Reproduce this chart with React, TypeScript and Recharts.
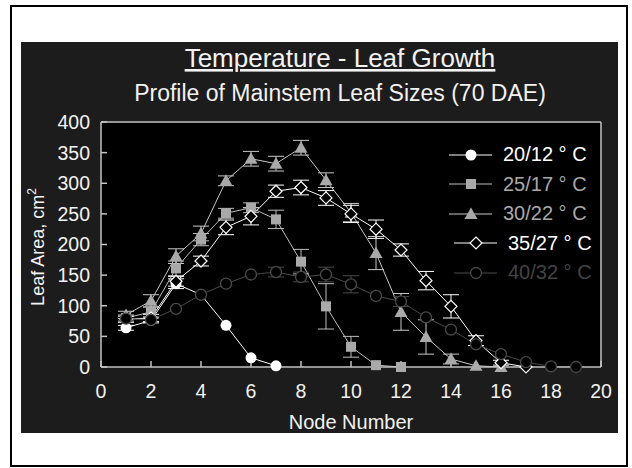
import { LineChart, Line, XAxis, YAxis, CartesianGrid, ErrorBar } from "recharts";

const FONT = "'Liberation Sans', Arial, sans-serif";

const nodes = [1, 2, 3, 4, 5, 6, 7, 8, 9, 10, 11, 12, 13, 14, 15, 16, 17, 18, 19];
const xTicks = [0, 2, 4, 6, 8, 10, 12, 14, 16, 18, 20];
const yTicks = [0, 50, 100, 150, 200, 250, 300, 350, 400];

// leaf area (cm2) per node, and half-width of the error bars
const t20 = [64, 76, 136, 118, 68, 15, 2];
const e20 = [4, 4, 8, 0, 0, 0, 0];
const t25 = [80, 90, 161, 208, 251, 260, 241, 172, 99, 33, 3, 0];
const e25 = [5, 8, 12, 10, 8, 8, 15, 20, 37, 17, 0, 0];
const t30 = [85, 108, 181, 218, 304, 340, 332, 358, 305, 252, 186, 90, 49, 13, 2, 0];
const e30 = [6, 10, 12, 12, 8, 12, 12, 12, 12, 15, 27, 30, 28, 8, 0, 0];
const t35 = [78, 80, 140, 173, 228, 246, 287, 293, 276, 250, 225, 191, 141, 99, 43, 7, 0];
const e35 = [5, 6, 8, 8, 12, 14, 10, 12, 12, 14, 15, 10, 15, 19, 8, 4, 0];
const t40 = [79, 77, 95, 118, 136, 151, 155, 147, 151, 135, 116, 107, 81, 61, 37, 21, 8, 1, 0];
const e40 = [0, 0, 0, 0, 0, 0, 8, 8, 12, 14, 0, 8, 0, 0, 0, 0, 0, 0, 0];

const data = nodes.map((n, i) => ({
  node: n,
  t20: t20[i] ?? null, e20: e20[i] ?? null,
  t25: t25[i] ?? null, e25: e25[i] ?? null,
  t30: t30[i] ?? null, e30: e30[i] ?? null,
  t35: t35[i] ?? null, e35: e35[i] ?? null,
  t40: t40[i] ?? null, e40: e40[i] ?? null,
}));

type Shape = "circle" | "square" | "triangle" | "diamond" | "ring";

function Marker({ shape, x, y }: { shape: Shape; x: number; y: number }) {
  switch (shape) {
    case "circle":
      return <circle cx={x} cy={y} r={5.5} fill="#fff" />;
    case "square":
      return <rect x={x - 5} y={y - 5} width={10} height={10} fill="#a9a9a9" />;
    case "triangle":
      return <polygon points={`${x},${y - 6.5} ${x + 6.5},${y + 5} ${x - 6.5},${y + 5}`} fill="#a9a9a9" />;
    case "diamond":
      return (
        <polygon
          points={`${x},${y - 6} ${x + 6},${y} ${x},${y + 6} ${x - 6},${y}`}
          fill="#000"
          stroke="#fff"
          strokeWidth={1.2}
        />
      );
    default:
      return <circle cx={x} cy={y} r={5.5} fill="#000" stroke="#4a4a4a" strokeWidth={1.3} />;
  }
}

const dotFor = (shape: Shape) => (props: any) => {
  const { cx, cy, index, value } = props;
  if (cx == null || cy == null || value == null) return <g key={`n${index}`} />;
  return (
    <g key={`d${index}`}>
      <Marker shape={shape} x={cx} y={cy} />
    </g>
  );
};

const series = [
  { key: "t20", err: "e20", name: "20/12 ° C", shape: "circle" as Shape, line: "#ffffff", text: "#ffffff", shift: 0 },
  { key: "t25", err: "e25", name: "25/17 ° C", shape: "square" as Shape, line: "#bdbdbd", text: "#a9a9a9", shift: 0 },
  { key: "t30", err: "e30", name: "30/22 ° C", shape: "triangle" as Shape, line: "#c8c8c8", text: "#a9a9a9", shift: 0 },
  { key: "t35", err: "e35", name: "35/27 ° C", shape: "diamond" as Shape, line: "#ffffff", text: "#ffffff", shift: 5 },
  { key: "t40", err: "e40", name: "40/32 ° C", shape: "ring" as Shape, line: "#4a4a4a", text: "#444444", shift: 5 },
];

function LegendBox() {
  return (
    <div style={{ position: "absolute", left: 444, top: 140, fontFamily: FONT, fontSize: 20 }}>
      {series.map((s) => (
        <div key={s.key} style={{ display: "flex", alignItems: "center", height: 29.5, paddingLeft: s.shift }}>
          <svg width={50} height={20} style={{ display: "block" }}>
            <line x1={5} x2={48} y1={10} y2={10} stroke={s.line} strokeWidth={1} />
            <Marker shape={s.shape} x={27} y={10} />
          </svg>
          <span style={{ color: s.text, marginLeft: 9, whiteSpace: "nowrap" }}>{s.name}</span>
        </div>
      ))}
    </div>
  );
}

const axisColor = "#c4c4c4";

export default function App() {
  return (
    <div style={{ position: "absolute", left: 0, top: 0, width: 632, height: 468, background: "#fff" }}>
      <svg width={632} height={468} style={{ position: "absolute", left: 0, top: 0 }}>
        <rect x={11} y={6} width={616} height={460} fill="none" stroke="#000" strokeWidth={2} />
        <rect x={21} y={42} width={597} height={391} fill="#1c1c1c" />
        <text x={340} y={67} textAnchor="middle" fill="#f2f2f2" fontFamily={FONT} fontSize={26} style={{ textDecoration: "underline" }}>
          Temperature - Leaf Growth
        </text>
        <text x={340} y={101} textAnchor="middle" fill="#f2f2f2" fontFamily={FONT} fontSize={23}>
          Profile of Mainstem Leaf Sizes (70 DAE)
        </text>
        <text
          x={43.5}
          y={247}
          transform="rotate(-90, 43.5, 247)"
          textAnchor="middle"
          fill="#f2f2f2"
          fontFamily={FONT}
          fontSize={18}
        >
          Leaf Area, cm<tspan fontSize={12} dy={-8}>2</tspan>
        </text>
      </svg>
      <div style={{ position: "absolute", left: 0, top: 0 }}>
        <LineChart width={632} height={468} data={data} margin={{ top: 121, right: 30, bottom: 41, left: 0 }}>
          <CartesianGrid fill="#000" stroke="#000" />
          <XAxis
            dataKey="node"
            type="number"
            domain={[0, 20]}
            ticks={xTicks}
            height={60}
            stroke={axisColor}
            strokeWidth={1.5}
            tickSize={-6}
            tickMargin={23}
            tick={{ fill: "#f2f2f2", fontSize: 19.5, fontFamily: FONT }}
            label={{ value: "Node Number", position: "insideBottom", offset: -2, fill: "#f2f2f2", fontSize: 20, fontFamily: FONT }}
          />
          <XAxis
            xAxisId="top"
            orientation="top"
            type="number"
            domain={[0, 20]}
            ticks={xTicks}
            height={1}
            stroke={axisColor}
            strokeWidth={1.5}
            tickSize={-6}
            tick={false}
          />
          <YAxis
            type="number"
            domain={[0, 400]}
            ticks={yTicks}
            width={101}
            stroke={axisColor}
            strokeWidth={1.5}
            tickSize={-6}
            tickMargin={17}
            tick={{ fill: "#f2f2f2", fontSize: 19.5, fontFamily: FONT }}
          />
          <YAxis
            yAxisId="right"
            orientation="right"
            type="number"
            domain={[0, 400]}
            ticks={yTicks}
            width={1}
            stroke={axisColor}
            strokeWidth={1.5}
            tickSize={-6}
            tick={false}
          />
          {series.map((s) => (
            <Line
              key={s.key}
              dataKey={s.key}
              name={s.name}
              stroke={s.line}
              strokeWidth={1}
              dot={dotFor(s.shape)}
              activeDot={false}
              isAnimationActive={false}
              connectNulls={false}
            >
              <ErrorBar dataKey={s.err} width={8} stroke={s.line} strokeWidth={1} direction="y" />
            </Line>
          ))}
        </LineChart>
      </div>
      <LegendBox />
    </div>
  );
}
